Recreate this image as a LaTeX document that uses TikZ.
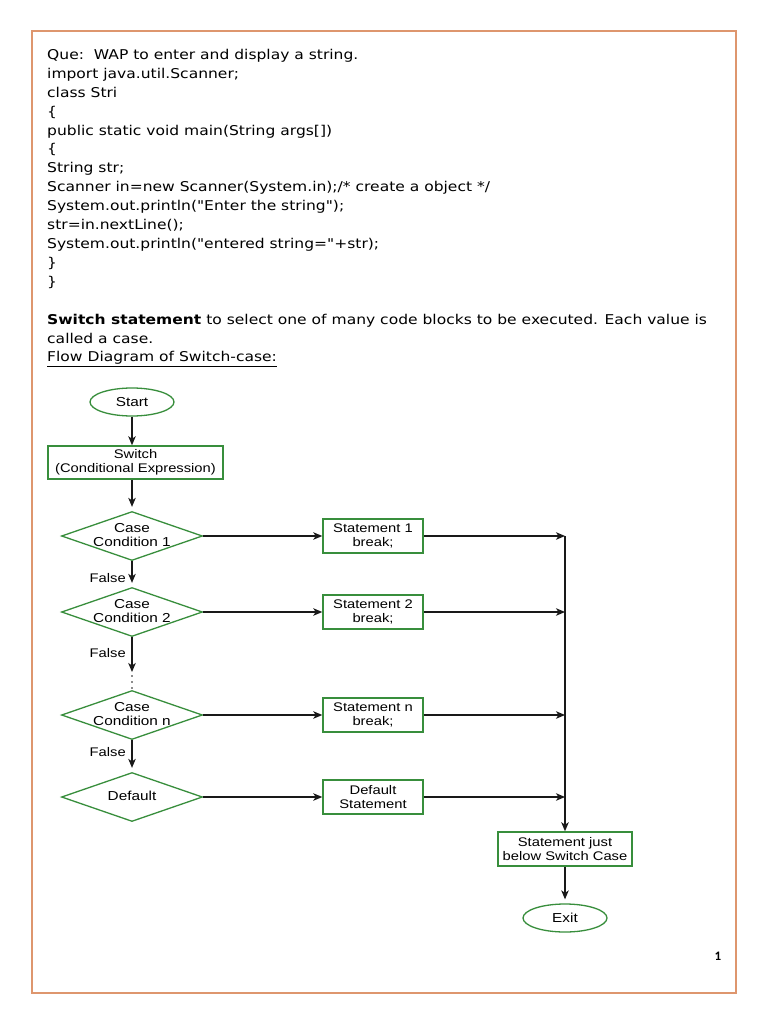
\documentclass[tikz,border=0pt]{standalone}
\usepackage{fontspec}
\setmainfont{DejaVu Sans}[Ligatures=TeXOff,FakeStretch=1.15]
\newfontfamily\fcfont[FakeStretch=1.18]{Liberation Sans}
\newfontfamily\pnfont{Carlito}
\usetikzlibrary{shapes.geometric,arrows.meta}
\definecolor{fgreen}{RGB}{56,142,60}
\definecolor{pborder}{RGB}{222,150,110}
\definecolor{lnk}{RGB}{25,25,25}
\begin{document}
\begin{tikzpicture}[x=1pt,y=-1pt,
  txt/.style={anchor=base west,inner sep=0,font=\fontsize{13.5}{16}\selectfont},
  term/.style={ellipse,draw=fgreen,line width=1.3pt,minimum width=84pt,minimum height=28pt,inner sep=0,font=\fcfont\fontsize{13}{14}\selectfont},
  proc/.style={rectangle,draw=fgreen,line width=1.5pt,inner sep=0,align=center,font=\fcfont\fontsize{12.5}{13.5}\selectfont},
  dec/.style={diamond,draw=fgreen,line width=1.3pt,minimum width=141pt,minimum height=49pt,inner sep=0},
  dtxt/.style={align=center,inner sep=0,font=\fcfont\fontsize{13}{14.5}\selectfont},
  flow/.style={draw=lnk,line width=1.1pt,-{Stealth[length=9pt,width=7.5pt,inset=2.5pt]}},
  lbl/.style={inner sep=0,anchor=east,font=\fcfont\fontsize{12.5}{13}\selectfont}
]
\useasboundingbox (0,0) rectangle (768,1024);
\fill[white] (0,0) rectangle (768,1024);
\draw[pborder,line width=2.2pt] (32,31) rectangle (736,993);

% text block
\node[txt] (t0)  at (47,59.5)  {Que:\ \ WAP to enter and display a string.};
\node[txt] (t1)  at (47,78.4)  {import java.util.Scanner;};
\node[txt] (t2)  at (47,97.3)  {class Stri};
\node[txt] (t3)  at (47,116.2) {\{};
\node[txt] (t4)  at (47,135.1) {public static void main(String args[])};
\node[txt] (t5)  at (47,154.0) {\{};
\node[txt] (t6)  at (47,172.9) {String str;};
\node[txt] (t7)  at (47,191.8) {Scanner in=new Scanner(System.in);/* create a object */};
\node[txt] (t8)  at (47,210.7) {System.out.println("Enter the string");};
\node[txt] (t9)  at (47,229.6) {str=in.nextLine();};
\node[txt] (t10) at (47,248.5) {System.out.println("entered string="+str);};
\node[txt] (t11) at (47,267.4) {\}};
\node[txt] (t12) at (47,286.3) {\}};
\node[txt] (t13) at (47,324.1) {\textbf{Switch statement} to select one of many code blocks to be executed. Each value is};
\node[txt] (t14) at (47,343.0) {called a case.};
\node[txt] (t15) at (47,361.9) {\underline{Flow Diagram of Switch-case:}};

% flowchart nodes
\node[term] (start) at (132,402) {Start};
\node[proc,minimum width=175pt,minimum height=33pt] (sw) at (135.5,462.5) {Switch\\(Conditional Expression)};
\node[dec] (d1) at (132,536) {};
\node[dtxt] (d1t) at (132,535) {Case\\Condition 1};
\node[dec] (d2) at (132,612) {};
\node[dtxt] (d2t) at (132,611) {Case\\Condition 2};
\node[dec] (dn) at (132,715) {};
\node[dtxt] (dnt) at (132,714) {Case\\Condition n};
\node[dec] (dd) at (132,797) {};
\node[dtxt] (ddt) at (132,796) {Default};

\node[proc,minimum width=100pt,minimum height=34pt] (s1) at (373,536) {Statement 1\\break;};
\node[proc,minimum width=100pt,minimum height=34pt] (s2) at (373,612) {Statement 2\\break;};
\node[proc,minimum width=100pt,minimum height=34pt] (sn) at (373,715) {Statement n\\break;};
\node[proc,minimum width=100pt,minimum height=34pt] (sd) at (373,797) {Default\\Statement};

\node[proc,minimum width=134pt,minimum height=34pt] (fin) at (565,849) {Statement just\\below Switch Case};
\node[term] (exit) at (565,918) {Exit};

\coordinate (j1) at (565,536);
\coordinate (j2) at (565,612);
\coordinate (jn) at (565,715);
\coordinate (jd) at (565,797);
\coordinate (dots) at (132,672);

% connectors
\draw[flow] (start.south) -- (start.south |- sw.north);
\draw[flow,shorten >=4pt] (d1.north |- sw.south) -- (d1.north);
\draw[flow,shorten >=4pt] (d1) -- (d2);
\draw[flow] (d2) -- (dots);
\draw[flow,shorten >=4pt] (dn) -- (dd);
\foreach \y in {676,682,688} \fill[lnk] (132,\y) circle (0.9);

\draw[flow] (d1) -- (s1);
\draw[flow] (d2) -- (s2);
\draw[flow] (dn) -- (sn);
\draw[flow] (dd) -- (sd);
\draw[flow] (s1) -- (j1);
\draw[flow] (s2) -- (j2);
\draw[flow] (sn) -- (jn);
\draw[flow] (sd) -- (jd);
\draw[flow] (j1) -- (fin);
\draw[flow,shorten >=4pt] (fin) -- (exit);

\node[lbl] (f1) at (126,578) {False};
\node[lbl] (f2) at (126,653) {False};
\node[lbl] (f3) at (126,752) {False};

\node[inner sep=0,font=\pnfont\bfseries\fontsize{13}{15}\selectfont] (pg) at (718,956) {1};
\end{tikzpicture}
\end{document}
